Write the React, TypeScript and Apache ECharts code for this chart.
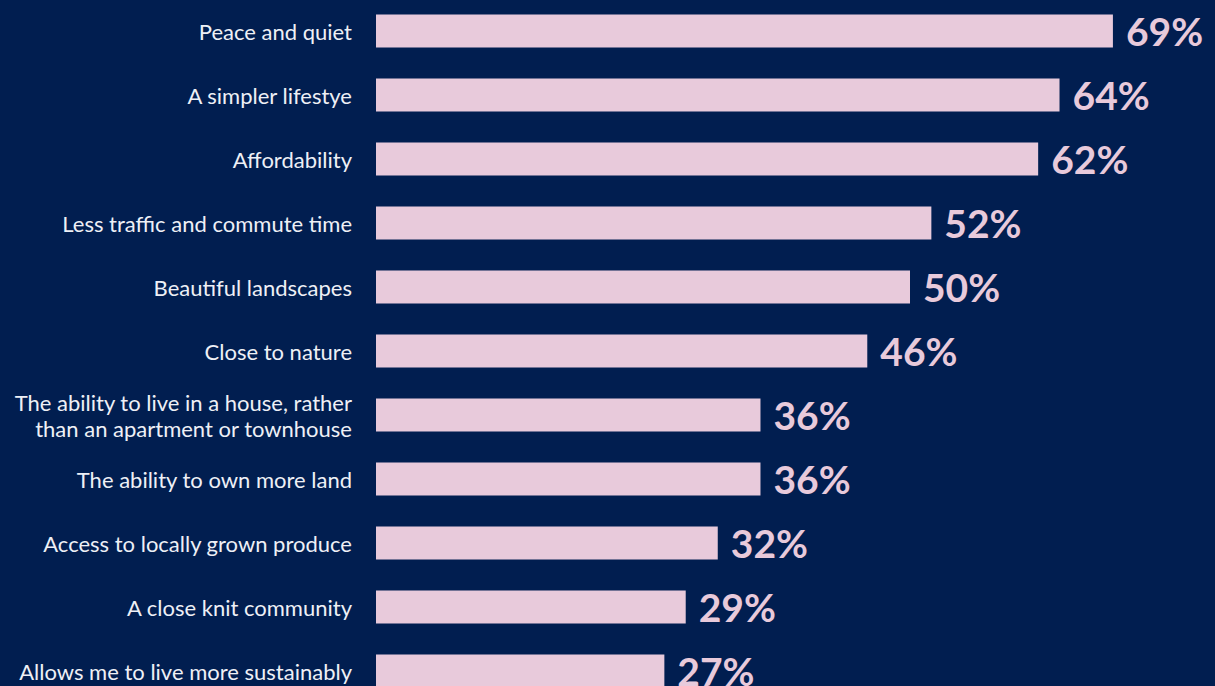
import React, { useEffect, useRef } from "react";
import * as echarts from "echarts";

const categories = [
  "Peace and quiet",
  "A simpler lifestye",
  "Affordability",
  "Less traffic and commute time",
  "Beautiful landscapes",
  "Close to nature",
  "The ability to live in a house, rather\nthan an apartment or townhouse",
  "The ability to own more land",
  "Access to locally grown produce",
  "A close knit community",
  "Allows me to live more sustainably",
];
const values = [69, 64, 62, 52, 50, 46, 36, 36, 32, 29, 27];

const BG = "#011e50";
const PINK = "#e8cadb";

export default function App() {
  const ref = useRef<HTMLDivElement>(null);
  useEffect(() => {
    if (!ref.current) return;
    const chart = echarts.init(ref.current, undefined, { renderer: "svg" });
    chart.setOption({
      animation: false,
      backgroundColor: BG,
      grid: { left: 376, top: 0, width: 1068, height: 704, containLabel: false },
      xAxis: {
        type: "value",
        min: 0,
        max: 100,
        show: false,
      },
      yAxis: {
        type: "category",
        data: categories,
        inverse: true,
        axisLine: { show: false },
        axisTick: { show: false },
        splitLine: { show: false },
        axisLabel: {
          color: "#eef0f6",
          fontFamily: "Lato",
          fontSize: 22,
          margin: 24,
          lineHeight: 26,
          align: "right",
        },
      },
      series: [
        {
          type: "bar",
          data: values,
          barWidth: 33,
          itemStyle: { color: PINK },
          label: {
            show: true,
            position: "right",
            distance: 13,
            formatter: "{c}%",
            color: PINK,
            fontFamily: "Lato",
            fontWeight: "bold",
            fontSize: 39,
          },
        },
      ],
    });
    return () => chart.dispose();
  }, []);
  return (
    <div
      style={{
        position: "fixed",
        left: 0,
        top: 0,
        width: 1215,
        height: 686,
        overflow: "hidden",
        background: BG,
      }}
    >
      <div ref={ref} style={{ position: "absolute", left: 0, top: -1, width: 1444, height: 704 }} />
    </div>
  );
}
